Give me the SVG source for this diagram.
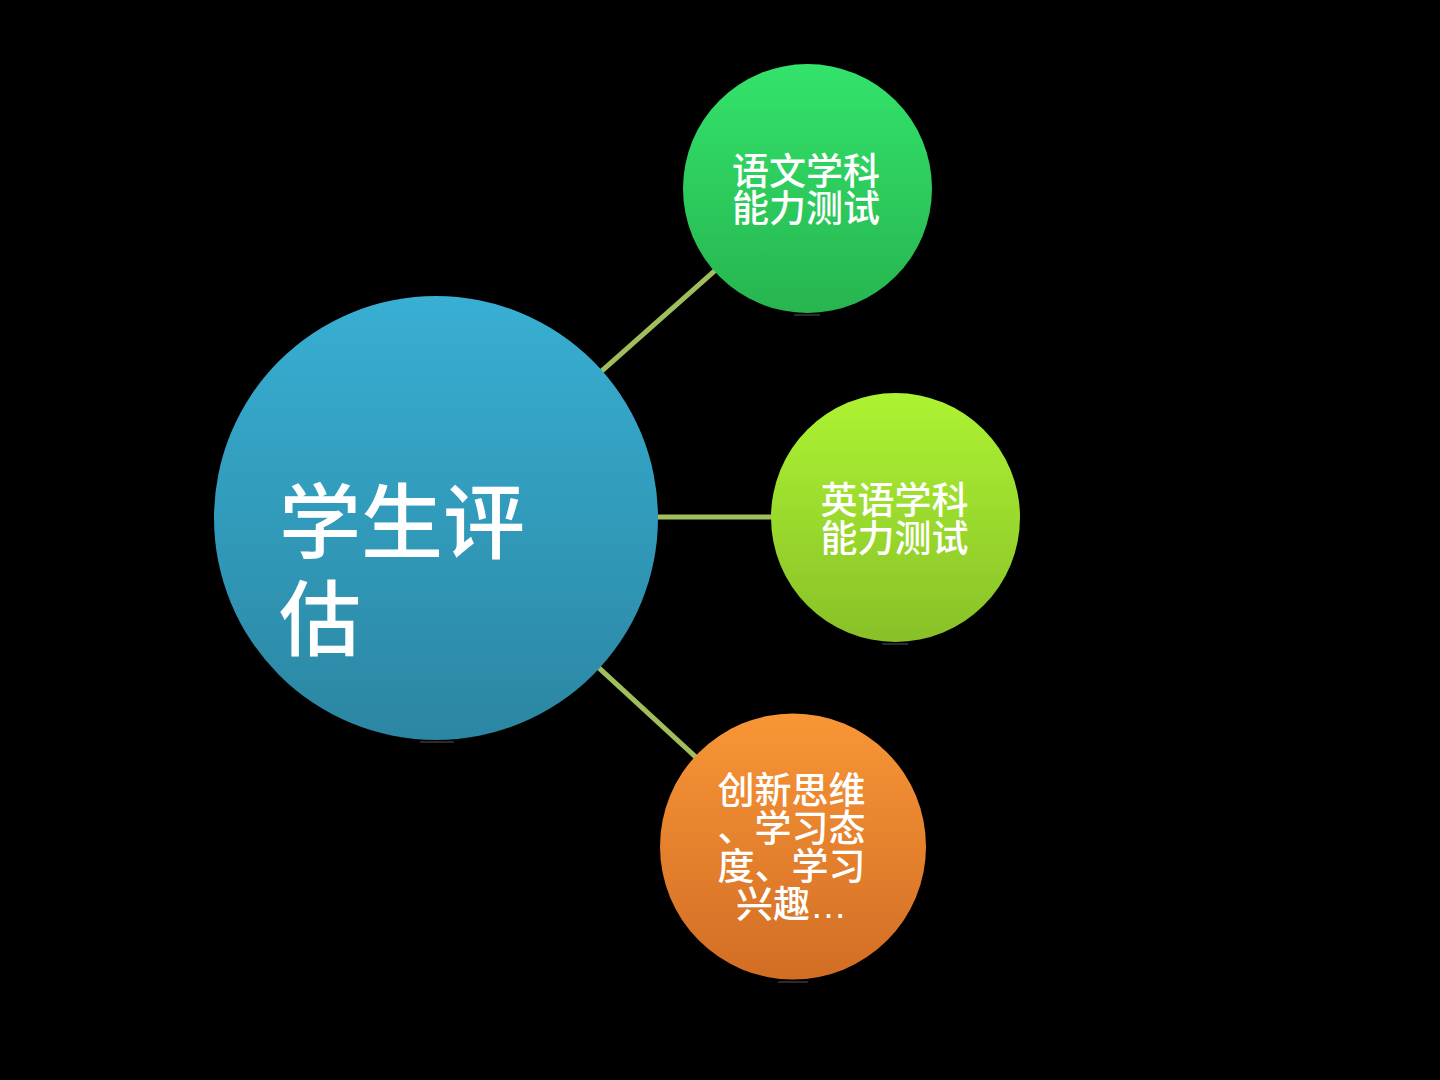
<svg xmlns="http://www.w3.org/2000/svg" width="1440" height="1080" viewBox="0 0 1440 1080">
<defs>
<linearGradient id="gBlue" x1="0" y1="0" x2="0" y2="1"><stop offset="0" stop-color="#38AFD3"/><stop offset="1" stop-color="#2B86A2"/></linearGradient>
<linearGradient id="gGreen" x1="0" y1="0" x2="0" y2="1"><stop offset="0" stop-color="#33E36B"/><stop offset="1" stop-color="#27B54F"/></linearGradient>
<linearGradient id="gLime" x1="0" y1="0" x2="0" y2="1"><stop offset="0" stop-color="#ADF332"/><stop offset="1" stop-color="#88C128"/></linearGradient>
<linearGradient id="gOrange" x1="0" y1="0" x2="0" y2="1"><stop offset="0" stop-color="#F89636"/><stop offset="1" stop-color="#D26D25"/></linearGradient>
<style>
.conn{stroke:#A0BF5C;stroke-width:5;fill:none}
.lbl{font-family:"Liberation Sans","Noto Sans CJK SC",sans-serif;font-weight:500;fill:#FFFFFF;text-anchor:middle}
.sm{font-size:37px}
.big{font-size:82px;text-anchor:start}
.shadow{fill:#2a2a2a}
</style>
</defs>
<rect width="1440" height="1080" fill="#000000"/>
<g id="connectors">
<line class="conn" x1="436" y1="518" x2="807.5" y2="188.5"/>
<line class="conn" x1="436" y1="517" x2="895.5" y2="517"/>
<line class="conn" x1="436" y1="518" x2="793" y2="846.5"/>
</g>
<g id="node-main">
<rect class="shadow" x="420" y="741" width="34" height="2"/>
<circle cx="436" cy="518" r="222" fill="url(#gBlue)"/>
<text class="lbl big" x="279" y="552">学生评</text>
<text class="lbl big" x="279" y="649">估</text>
</g>
<g id="node-chinese">
<rect class="shadow" x="794" y="314" width="26" height="2"/>
<circle cx="807.5" cy="188.5" r="124.5" fill="url(#gGreen)"/>
<text class="lbl sm" x="806" y="185">语文学科</text>
<text class="lbl sm" x="806" y="222">能力测试</text>
</g>
<g id="node-english">
<rect class="shadow" x="882" y="643" width="26" height="2"/>
<circle cx="895.5" cy="517.5" r="124.5" fill="url(#gLime)"/>
<text class="lbl sm" x="894.5" y="514">英语学科</text>
<text class="lbl sm" x="894.5" y="552">能力测试</text>
</g>
<g id="node-other">
<rect class="shadow" x="778" y="981" width="30" height="2"/>
<circle cx="793" cy="846.5" r="133" fill="url(#gOrange)"/>
<text class="lbl sm" x="791.5" y="804">创新思维</text>
<text class="lbl sm" x="791.5" y="842">、学习态</text>
<text class="lbl sm" x="791.5" y="880">度、学习</text>
<text class="lbl sm" x="791.5" y="918">兴趣…</text>
</g>
</svg>
